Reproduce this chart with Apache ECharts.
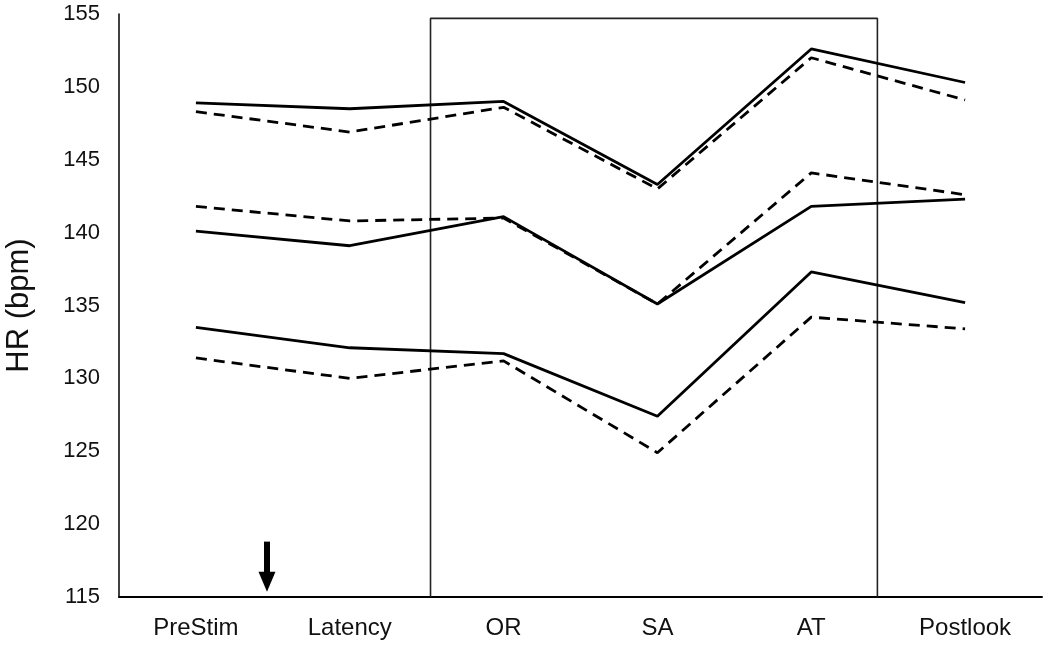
<!DOCTYPE html>
<html>
<head>
<meta charset="utf-8">
<script src="https://cdn.jsdelivr.net/npm/echarts@6/dist/echarts.min.js"></script>
<style>html,body{margin:0;padding:0;background:#fff;}#c{width:1050px;height:647px;}</style>
</head>
<body>
<div id="c"></div>
<script>
const categories = ['PreStim', 'Latency', 'OR', 'SA', 'AT', 'Postlook'];
const solidTop    = [148.9, 148.5, 149.0, 143.3, 152.6, 150.3];
const dashedTop   = [148.3, 146.9, 148.6, 143.0, 152.0, 149.1];
const dashedMid   = [141.8, 140.8, 141.0, 135.1, 144.1, 142.6];
const solidMid    = [140.1, 139.1, 141.1, 135.1, 141.8, 142.3];
const solidBot    = [133.5, 132.1, 131.7, 127.4, 137.3, 135.2];
const dashedBot   = [131.4, 130.0, 131.2, 124.9, 134.2, 133.4];
// annotation box (in category-index units) and arrow
const boxX = [1.525, 1.525, 4.43, 4.43];
const boxY = [115, 154.7, 154.7, 115];
const arrowX = [0.462, 0.462];
const arrowY = [118.8, 116.6];
const arrowHead = [[0.462, 116.05]];

const font = 'Liberation Sans, Arial, sans-serif';
function lineSeries(data, dashed) {
  return {
    type: 'line', data: data, symbol: 'none', xAxisIndex: 0, yAxisIndex: 0,
    lineStyle: { color: '#000', width: 2.8, type: dashed ? [11, 7] : 'solid' },
    silent: true, z: 5
  };
}
const chart = echarts.init(document.getElementById('c'));
chart.setOption({
  animation: false,
  backgroundColor: '#fff',
  grid: { left: 119, right: 8, top: 14, bottom: 50, containLabel: false, outerBoundsMode: 'none' },
  xAxis: [{
    type: 'category', data: categories, boundaryGap: true,
    axisLine: { lineStyle: { color: '#000', width: 2 } },
    axisTick: { show: false },
    axisLabel: { color: '#111', fontSize: 24, fontFamily: font, margin: 19 },
    splitLine: { show: false }
  }, {
    type: 'value', min: -0.5, max: 5.5, show: false, position: 'bottom'
  }],
  yAxis: {
    type: 'value', min: 115, max: 155, interval: 5,
    name: 'HR (bpm)', nameLocation: 'middle', nameGap: 84, nameRotate: 90,
    nameTextStyle: { color: '#111', fontSize: 31, fontFamily: font },
    axisLine: { show: true, onZero: false, lineStyle: { color: '#000', width: 1.5 } },
    axisTick: { show: false },
    axisLabel: { color: '#111', fontSize: 22, fontFamily: font, margin: 19 },
    splitLine: { show: false }
  },
  series: [
    lineSeries(solidTop, false),
    lineSeries(dashedTop, true),
    lineSeries(dashedMid, true),
    lineSeries(solidMid, false),
    lineSeries(solidBot, false),
    lineSeries(dashedBot, true),
    {
      type: 'line', xAxisIndex: 1, yAxisIndex: 0, symbol: 'none', silent: true,
      data: boxX.map((x, i) => [x, boxY[i]]),
      lineStyle: { color: '#222', width: 1.6 }, z: 3
    },
    {
      type: 'line', xAxisIndex: 1, yAxisIndex: 0, symbol: 'none', silent: true,
      data: arrowX.map((x, i) => [x, arrowY[i]]),
      lineStyle: { color: '#000', width: 6 }, z: 6
    },
    {
      type: 'scatter', xAxisIndex: 1, yAxisIndex: 0, silent: true,
      data: arrowHead, symbol: 'triangle', symbolRotate: 180, symbolSize: [17, 20],
      itemStyle: { color: '#000', opacity: 1 }, z: 6
    }
  ]
});
</script>
</body>
</html>
